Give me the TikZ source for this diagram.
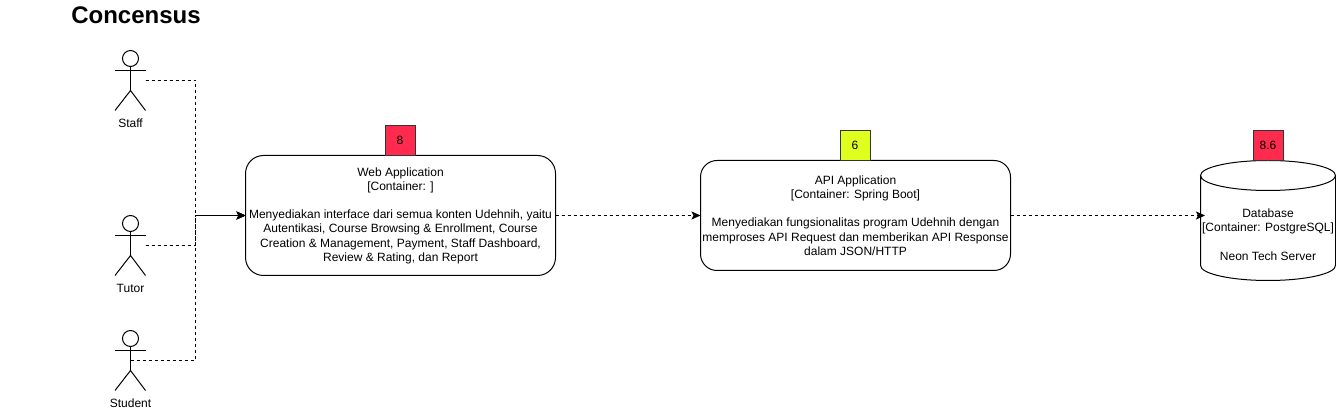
\documentclass[tikz,border=0pt]{standalone}
\usepackage{fontspec}
\setmainfont{Liberation Sans}
\usetikzlibrary{arrows.meta}

\tikzset{
  txt/.style={font=\fontsize{12}{14.2}\selectfont,align=center,inner sep=0pt},
  container/.style={txt,draw,line width=1pt,rounded corners=#1,minimum width=310pt,outer sep=0pt},
  badge/.style={txt,draw=black!80,line width=1pt,minimum width=30pt,minimum height=30pt,outer sep=0pt},
  link/.style={line width=1pt,dash pattern=on 3pt off 3pt},
  linkarrow/.style={link,-{Stealth[length=9pt,width=8pt,inset=2pt]}}
}
\definecolor{badred}{HTML}{FF2B4F}
\definecolor{okyellow}{HTML}{DFFF1F}

\begin{document}
\begin{tikzpicture}[x=1pt,y=-1pt,line width=1pt]
  \useasboundingbox (0,-0.5) rectangle (1336,410.5);

  % title
  \node[at={(136,15)},font=\fontsize{24}{28}\selectfont\bfseries,inner sep=0pt] (title) {Concensus};

  % actors
  \foreach \name/\lab/\top in {staff/Staff/50,tutor/Tutor/215,student/Student/330}{
    \draw (130.5,\top+8) circle (8);
    \draw (130.5,\top+16) -- (130.5,\top+40);
    \draw (115,\top+20) -- (145.5,\top+20);
    \draw (115,\top+60) -- (130.5,\top+40) -- (145.5,\top+60);
    \node[txt,at={(130.5,\top+73)}] (\name) {\lab};
  }

  % containers
  \node[container=18pt,minimum height=120pt,at={(400.5,215)}] (web) {Web Application\\
    {[Container: ]}\\[14.2pt]
    Menyediakan interface dari semua konten Udehnih, yaitu\\
    Autentikasi, Course Browsing \& Enrollment, Course\\
    Creation \& Management, Payment, Staff Dashboard,\\
    Review \& Rating, dan Report};
  \node[container=16.5pt,minimum height=110pt,at={(855.5,215)}] (api) {API Application\\
    {[Container: Spring Boot]}\\[14.2pt]
    Menyediakan fungsionalitas program Udehnih dengan\\
    memproses API Request dan memberikan API Response\\
    dalam JSON/HTTP};

  % database
  \draw (1200.5,175) -- (1200.5,265)
    arc[start angle=180,end angle=0,x radius=67.5,y radius=15]
    -- (1335.5,175)
    arc[start angle=0,end angle=-180,x radius=67.5,y radius=15]
    arc[start angle=180,end angle=0,x radius=67.5,y radius=15];
  \node[txt,at={(1268,234)}] (db) {Database\\
    {[Container: PostgreSQL]}\\[14.2pt]
    Neon Tech Server};

  % scores
  \node[badge,fill=badred,at={(400,140)}] (webscore) {8};
  \node[badge,fill=okyellow,at={(855,145)}] (apiscore) {6};
  \node[badge,fill=badred,at={(1268,145)}] (dbscore) {8.6};

  % connectors
  \coordinate (staffhand) at (145.5,80);
  \coordinate (tutorhand) at (145.5,245);
  \coordinate (studenthand) at (130.5,360);
  \coordinate (dbin) at (1205,215);
  \draw[linkarrow] (staffhand) -| (195.5,215) -- (web.west);
  \draw[linkarrow] (tutorhand) -| (195.5,215) -- (web.west);
  \draw[linkarrow] (studenthand) -| (195.5,215) -- (web.west);
  \draw[linkarrow] (web.east) -- (api.west);
  \draw[linkarrow] (api.east) -- (dbin);
\end{tikzpicture}
\end{document}
